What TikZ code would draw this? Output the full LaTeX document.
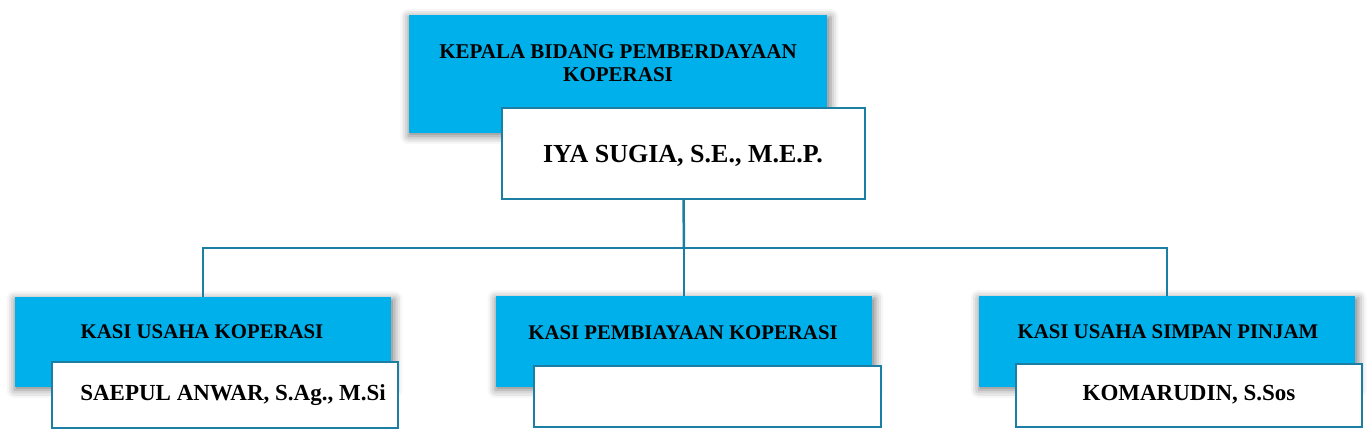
\documentclass[tikz,border=0pt]{standalone}
\usepackage{fontspec}
\setmainfont{Liberation Serif}
\usetikzlibrary{shadows.blur}
\definecolor{cblue}{RGB}{0,176,234}
\definecolor{cteal}{RGB}{28,126,162}
\tikzset{
  bluebox/.style={fill=cblue, draw=none, inner sep=0pt, outer sep=0pt, anchor=north west,
    blur shadow={shadow xshift=1.5pt, shadow yshift=-2.5pt, shadow blur radius=8pt, shadow opacity=50, shadow scale=1.01}},
  whitebox/.style={fill=white, draw=cteal, line width=2pt, inner sep=0pt, outer sep=0pt, anchor=north west},
  headtxt/.style={font=\bfseries\fontsize{20.8}{23}\selectfont, align=center, inner sep=0pt},
  nametxt/.style={font=\bfseries\fontsize{23}{26}\selectfont, inner sep=0pt},
  conn/.style={draw=cteal, line width=2.5pt}
}
\begin{document}
\begin{tikzpicture}[x=1pt,y=-1pt]
\useasboundingbox (0,0) rectangle (1370,430);
\coordinate (j) at (684,248);
% top
\node[bluebox, minimum width=418pt, minimum height=118pt] (b0) at (409,15) {};
\node[headtxt, font=\bfseries\fontsize{21}{23}\selectfont] (h0) at (618,63) {KEPALA BIDANG PEMBERDAYAAN\\KOPERASI};
% bottom blue boxes
\node[bluebox, minimum width=376pt, minimum height=90pt] (b1) at (15,297) {};
\node[bluebox, minimum width=376pt, minimum height=91pt] (b2) at (496,296) {};
\node[bluebox, minimum width=376pt, minimum height=91pt] (b3) at (979,296) {};
\draw[conn] (b1.north) |- (j) -| (b3.north);
\draw[conn] (j) -- (b2.north);
\node[whitebox, minimum width=363pt, minimum height=91pt] (w0) at (502,108) {};
\draw[conn] (w0.south) -- (j);
\node[nametxt, font=\bfseries\fontsize{26}{30}\selectfont] (n0) at (683,156) {IYA SUGIA, S.E., M.E.P.};
\node[headtxt] (h1) at (202,332) {KASI USAHA KOPERASI};
\node[headtxt] (h2) at (683,333) {KASI PEMBIAYAAN KOPERASI};
\node[headtxt] (h3) at (1168,332) {KASI USAHA SIMPAN PINJAM};
\node[whitebox, minimum width=346pt, minimum height=66pt] (w1) at (52,362) {};
\node[whitebox, minimum width=347pt, minimum height=61pt] (w2) at (534,366) {};
\node[whitebox, minimum width=346pt, minimum height=63pt] (w3) at (1016,364) {};
\node[nametxt] (n1) at (233,395) {SAEPUL ANWAR, S.Ag., M.Si};
\node[nametxt] (n3) at (1189,395) {KOMARUDIN, S.Sos};
\end{tikzpicture}
\end{document}
